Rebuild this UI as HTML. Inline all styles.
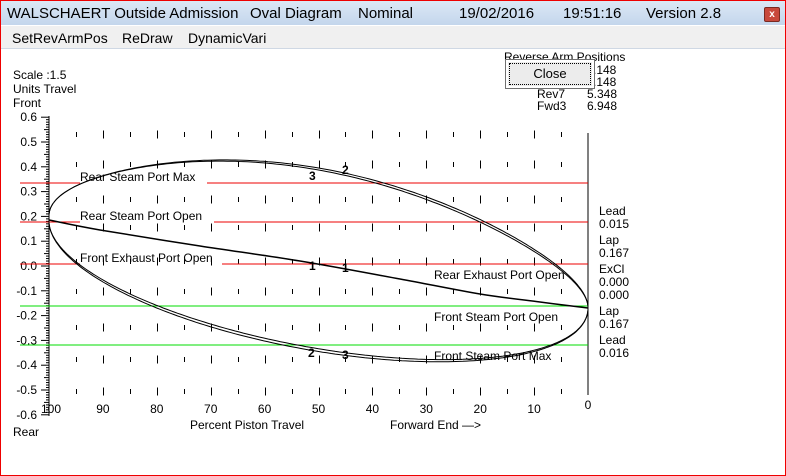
<!DOCTYPE html>
<html><head><meta charset="utf-8"><style>
body{margin:0;width:786px;height:476px;overflow:hidden;background:#fff;font-family:"Liberation Sans",sans-serif;}
#win{position:absolute;left:0;top:0;width:784px;height:474px;border:1px solid #e00;background:#fff;}
#title{position:absolute;left:0;top:0;width:784px;height:24px;background:linear-gradient(#dce8f5,#c4d6ec);font-size:15px;line-height:26px;color:#000;}
#title span{position:absolute;top:0;white-space:nowrap}
#xbtn{position:absolute;left:763px;top:6px;width:14px;height:13px;background:#c8493c;border:1px solid #7a2a22;border-radius:2px;color:#fff;font-size:10px;line-height:13px;text-align:center;font-weight:bold}
#menu{position:absolute;left:0;top:25px;width:784px;height:22px;background:#f0f0f0;border-bottom:1px solid #cfd8e4;font-size:14px;line-height:24px}
#menu span{position:absolute;top:0}
svg{position:absolute;left:0;top:0}
svg text{font-family:"Liberation Sans",sans-serif;font-size:12px;fill:#000}
#close{position:absolute;left:505px;top:59px;width:88px;height:28px;background:#ececec;border:1px solid #707070;box-shadow:inset 0 0 0 2px #fff;font-size:13px;line-height:28px;text-align:center}
#close div{position:absolute;left:3px;top:3px;right:3px;bottom:3px;border:1px dotted #000}
</style></head><body>
<div id="win">
<div id="title"><span style="left:6px">WALSCHAERT Outside Admission</span><span style="left:249px">Oval Diagram</span><span style="left:357px">Nominal</span><span style="left:458px">19/02/2016</span><span style="left:562px">19:51:16</span><span style="left:645px">Version 2.8</span><div id="xbtn">x</div></div>
<div id="menu"><span style="left:11px">SetRevArmPos</span><span style="left:121px">ReDraw</span><span style="left:187px">DynamicVari</span></div>
</div>
<svg width="786" height="476" viewBox="0 0 786 476">
<text x="13" y="79">Scale :1.5</text>
<text x="13" y="93">Units Travel</text>
<text x="13" y="107">Front</text>
<text x="13" y="436">Rear</text>
<text x="504" y="61">Reverse Arm Positions</text>
<text x="593" y="74">.148</text>
<text x="593" y="86">.148</text>
<text x="537" y="98">Rev7</text><text x="587" y="98">5.348</text>
<text x="537" y="110">Fwd3</text><text x="587" y="110">6.948</text>
<line x1="49" y1="116" x2="49" y2="416" stroke="#000"/>
<line x1="588" y1="133" x2="588" y2="395" stroke="#000"/>
<g stroke="#000" id="yt"></g>
<g id="yl" text-anchor="end"></g>
<g stroke="#000" id="grid"></g>
<g id="xl" text-anchor="middle"></g>
<line x1="20" y1="183" x2="80" y2="183" stroke="#e00"/>
<line x1="207" y1="183" x2="588" y2="183" stroke="#e00"/>
<line x1="20" y1="222" x2="80" y2="222" stroke="#e00"/>
<line x1="214" y1="222" x2="588" y2="222" stroke="#e00"/>
<line x1="20" y1="264" x2="80" y2="264" stroke="#e00"/>
<line x1="222" y1="264" x2="588" y2="264" stroke="#e00"/>
<line x1="20" y1="306" x2="588" y2="306" stroke="#0d0"/>
<line x1="20" y1="345" x2="588" y2="345" stroke="#0d0"/>
<g id="curves" fill="none" stroke="#000"></g>
<text x="80" y="181">Rear Steam Port Max</text>
<text x="80" y="220">Rear Steam Port Open</text>
<text x="80" y="262">Front Exhaust Port Open</text>
<text x="434" y="279">Rear Exhaust Port Open</text>
<text x="434" y="321">Front Steam Port Open</text>
<text x="434" y="360">Front Steam Port Max</text>
<text x="309" y="180" style="font-weight:bold">3</text><text x="342" y="174" style="font-weight:bold">2</text>
<text x="309" y="270" style="font-weight:bold">1</text><text x="342" y="272" style="font-weight:bold">1</text>
<text x="308" y="357" style="font-weight:bold">2</text><text x="342" y="359" style="font-weight:bold">3</text>
<text x="599" y="215">Lead</text><text x="599" y="228">0.015</text>
<text x="599" y="244">Lap</text><text x="599" y="257">0.167</text>
<text x="599" y="273">ExCl</text><text x="599" y="286">0.000</text><text x="599" y="299">0.000</text>
<text x="599" y="315">Lap</text><text x="599" y="328">0.167</text>
<text x="599" y="344">Lead</text><text x="599" y="357">0.016</text>
<text x="190" y="429">Percent Piston Travel</text>
<text x="390" y="429">Forward End —&gt;</text>
</svg>
<div id="close"><div></div>Close</div>
<script>
var ns="http://www.w3.org/2000/svg";
function el(p,t,a,txt){var e=document.createElementNS(ns,t);for(var k in a)e.setAttribute(k,a[k]);if(txt!=null)e.textContent=txt;document.getElementById(p).appendChild(e);}
function Y(v){return 266-v*248;}function X(p){return 588-p*5.39;}
for(var i=-60;i<=60;i++){var y=Y(i/100);var L=(i%10==0)?8:(i%5==0?5:3);el('yt','line',{x1:49-L,y1:y,x2:49,y2:y});}
for(var i=-6;i<=6;i++){var s=(i/10).toFixed(1);if(i==0)s="0.0";el('yl','text',{x:37,y:Y(i/10)+4},s);}
var rows=[135,165,200,228,262,292,328,360,392];
for(var p=5;p<=95;p+=5){var x=Math.round(X(p))+.5;var h=(p%10==0)?7:4;rows.forEach(function(r){el('grid','line',{x1:x,y1:r-h/2-1,x2:x,y2:r+h/2});});}
for(var p=0;p<=100;p+=10){el('xl','text',{x:X(p)+(p==100?2:0),y:p==0?409:413},String(p));}
function param(f,w){var d="";for(var k=0;k<=200;k++){var t=k/200*Math.PI;var c=Math.cos(t),s=Math.sin(t);var x=318.5-269.5*c;var y=f(c,s);d+=(k?"L":"M")+x.toFixed(1)+","+y.toFixed(1);}el('curves','path',{d:d,'stroke-width':w||1});}
param(function(c,s){return 262-46*c-94*s+18*c*c*s;});
param(function(c,s){return 262-46*c-94*s+18*c*c*s+4*s*(1-c)/2;});
param(function(c,s){return 264.5-43.5*c+87*s;});
param(function(c,s){return 264.5-43.5*c+85*s-1.5*s*(1+c)/2;});
var dp=[[49,220],[100,230],[200,246],[300,261],[400,279],[480,294],[540,302],[588,308]];
var d="M49,220";for(var i=1;i<dp.length;i++){var p0=dp[Math.max(i-2,0)],p1=dp[i-1],p2=dp[i],p3=dp[Math.min(i+1,dp.length-1)];d+="C"+(p1[0]+(p2[0]-p0[0])/6)+","+(p1[1]+(p2[1]-p0[1])/6)+" "+(p2[0]-(p3[0]-p1[0])/6)+","+(p2[1]-(p3[1]-p1[1])/6)+" "+p2[0]+","+p2[1];}
el('curves','path',{d:d,'stroke-width':1.5});
</script>
</body></html>
